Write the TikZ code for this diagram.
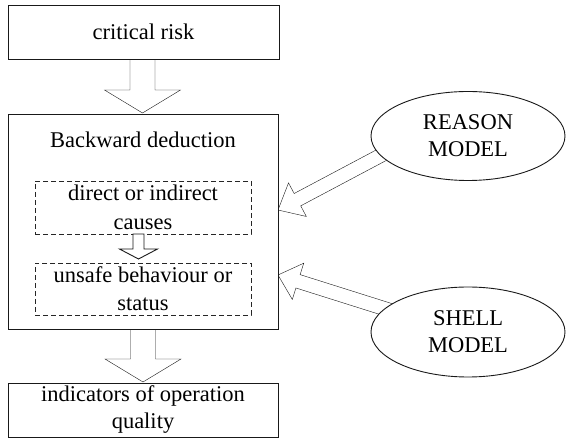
\documentclass[tikz,border=0pt]{standalone}
\usepackage{fontspec}
\setmainfont{Liberation Serif}
\newfontfamily\lser{Liberation Serif}
\usetikzlibrary{calc,shapes.geometric,backgrounds}
\newcommand\fatarrow[5]{%
  \coordinate (fa-h) at ($(#2)!#5!(#1)$);
  \draw[fatstyle] ($(#1)!#3!90:(#2)$) -- ($(fa-h)!#3!90:(#2)$) -- ($(fa-h)!#4!90:(#2)$) -- (#2)
    -- ($(fa-h)!#4!-90:(#2)$) -- ($(fa-h)!#3!-90:(#2)$) -- ($(#1)!#3!-90:(#2)$) -- cycle;}
\begin{document}
\begin{tikzpicture}[x=1pt,y=-1pt,line width=0.9pt,
  every node/.style={font=\lser\fontsize{22.5}{27}\selectfont,align=center,inner sep=0pt,text=black},
  box/.style={draw=black!90,fill=white,rectangle},
  dbox/.style={draw=black!85,dash pattern=on 5pt off 3pt,rectangle},
  oval/.style={draw=black!90,fill=white,ellipse},
  fatstyle/.style={draw=black!90,fill=white,line join=miter}]
\useasboundingbox (0,0) rectangle (566,438);
\node[box,minimum width=271pt,minimum height=54pt] (top) at (143.5,32) {critical risk};
\node[box,minimum width=270pt,minimum height=215pt] (back) at (143,221.5) {};
\node (title) at (143,140) {Backward deduction};
\node[dbox,minimum width=216pt,minimum height=53pt,font=\lser\fontsize{22.5}{29}\selectfont] (d1) at (143,207.5) {direct or indirect\\causes};
\node[dbox,minimum width=216pt,minimum height=52pt,font=\lser\fontsize{22.5}{28}\selectfont] (d2) at (143,289) {unsafe behaviour or\\status};
\node[box,minimum width=270pt,minimum height=54pt] (bot) at (143,410) {indicators of operation\\quality};
\node[oval,minimum width=194pt,minimum height=89pt] (reason) at (468,136) {REASON\\MODEL};
\node[oval,minimum width=194pt,minimum height=90pt] (shell) at (468,332) {SHELL\\MODEL};
\coordinate (a2s) at (138.5,234); \coordinate (a2t) at (138.5,259);
\fatarrow{a2s}{a2t}{5.5pt}{19pt}{10pt}
\begin{scope}[on background layer]
  \coordinate (a1s) at (142.5,59);  \coordinate (a1t) at (142.5,113);
  \fatarrow{a1s}{a1t}{12.5pt}{38pt}{23pt}
  \coordinate (a3s) at (143,329);   \coordinate (a3t) at (143,382);
  \fatarrow{a3s}{a3t}{12.5pt}{38pt}{23pt}
  \coordinate (rs) at (408,141);    \coordinate (rt) at (278,210);
  \fatarrow{rs}{rt}{7pt}{19pt}{22pt}
  \coordinate (ss) at (408,316);    \coordinate (st) at (278,275);
  \fatarrow{ss}{st}{7pt}{19pt}{21pt}
\end{scope}
\end{tikzpicture}
\end{document}
